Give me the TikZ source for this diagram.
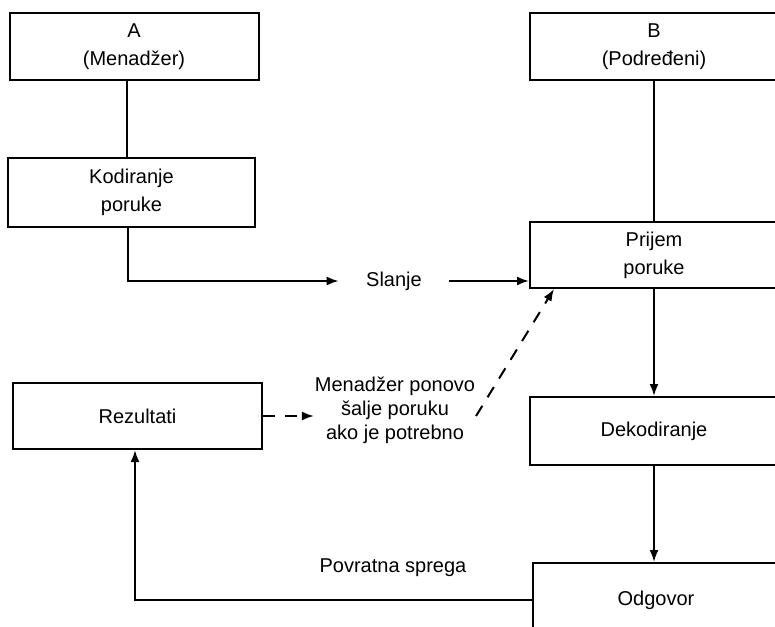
\documentclass[tikz,border=0pt]{standalone}
\usepackage{fontspec}
\setmainfont{Liberation Sans}
\usetikzlibrary{calc, arrows.meta, positioning}

\begin{document}
\begin{tikzpicture}[x=0.5pt, y=-0.5pt, line width=1pt, >={Latex[length=6pt,width=4.5pt]},
    box/.style={draw, minimum width=124pt, minimum height=33.5pt, align=center},
    tekst/.style={align=center, inner sep=0pt},
    crtkano/.style={dash pattern=on 6pt off 5pt}]
    \useasboundingbox (0,0) rectangle (775,626);
    \clip (0,0) rectangle (775,626);
    % Lijeva strana
    \node[box, minimum width=124.5pt] (A) at (134,46.5) {A\\[2pt](Menadžer)};
    \node[box, minimum width=123.5pt, minimum height=34.5pt] (kod) at (131.5,192.5) {Kodiranje\\[2pt]poruke};
    \node[box, minimum width=124.5pt, minimum height=33pt] (rez) at (137.5,416) {Rezultati};
    % Desna strana
    \node[box] (B) at (654,46.5) {B\\[2pt](Podređeni)};
    \node[box, minimum height=33pt] (prijem) at (654,255) {Prijem\\[2pt]poruke};
    \node[box, minimum height=34pt] (dekod) at (654,431) {Dekodiranje};
    \node[box, minimum width=123pt, minimum height=37pt] (odgovor) at (656,600) {Odgovor};
    % Tekstovi
    \node[tekst, inner xsep=13.25pt] (slanje) at (394,281) {Slanje};
    \node[tekst] (ponovo) at (395,410) {Menadžer ponovo\\šalje poruku\\ako je potrebno};
    \node[tekst] (sprega) at (393,568) {Povratna sprega};
    % Veze
    \draw ([xshift=-3.5pt]A.south) -- ([xshift=-3.5pt]A.south |- kod.north);
    \draw[->] ([xshift=-2pt]kod.south) |- (slanje.west);
    \draw[->] (slanje.east) -- (slanje.east -| prijem.west);
    \draw (B.south) -- (prijem.north);
    \draw[->] (prijem.south) -- (dekod.north);
    \draw[->] (dekod.south) -- (dekod.south |- odgovor.north);
    \draw[->] (odgovor.west) -| ([xshift=-1.25pt]rez.south);
    \draw[crtkano, ->] (rez.east) -- (rez.east -| ponovo.west);
    \draw[crtkano, ->] ([yshift=-3pt]ponovo.east) -- ($(prijem.south west)!0.1!(prijem.south east)$);
\end{tikzpicture}
\end{document}
